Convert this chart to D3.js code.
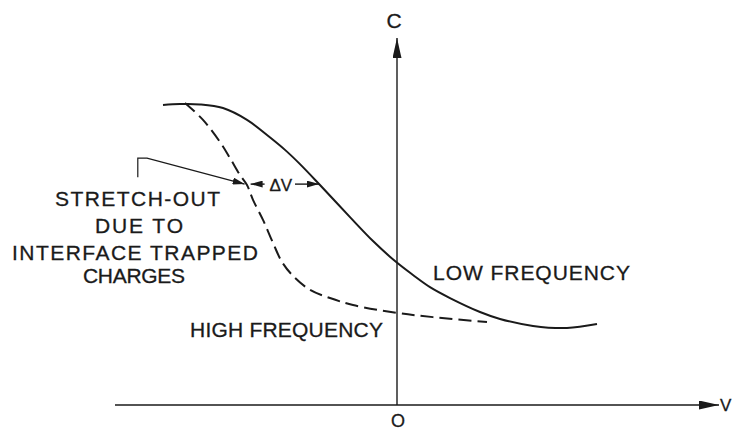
<!DOCTYPE html>
<html>
<head>
<meta charset="utf-8">
<script src="https://cdn.jsdelivr.net/npm/d3@7"></script>
<style>
  html, body { margin: 0; padding: 0; background: #fff; }
  svg text { font-family: "Liberation Sans", "DejaVu Sans", sans-serif; fill: #1a1a1a; stroke: #1a1a1a; stroke-width: 0.3px; }
</style>
</head>
<body>
<div id="chart"></div>
<script>
// low frequency C-V curve (gate voltage, normalised capacitance)
const lowFreqV = [-5.85, -5.425, -4.925, -4.35, -3.75, -3.25, -2.8, -2.425, -1.925, -1.175, -0.6, -0.05, 0.4, 0.825, 1.325, 2.075, 2.575, 3.4, 4.25, 5.0];
const lowFreqC = [0.99, 0.993, 0.992, 0.98, 0.941, 0.891, 0.842, 0.795, 0.726, 0.62, 0.541, 0.475, 0.429, 0.389, 0.353, 0.307, 0.284, 0.261, 0.254, 0.267];

// high frequency C-V curve
const highFreqV = [-5.3, -4.85, -4.425, -4.175, -3.925, -3.75, -3.6, -3.35, -3.1, -2.875, -2.6, -2.175, -1.675, -1.1, 0, 0.9, 2.25];
const highFreqC = [0.997, 0.941, 0.868, 0.815, 0.759, 0.726, 0.677, 0.611, 0.535, 0.472, 0.426, 0.38, 0.353, 0.33, 0.304, 0.29, 0.274];

// stretch-out annotation: level and the two ends of delta V
const deltaC = 0.729;
const deltaV = [-3.76, -1.95];

const width = 732, height = 430;

const svg = d3.select("#chart")
  .append("svg")
  .attr("width", width)
  .attr("height", height);

const x = d3.scaleLinear().domain([-7.05, 8.05]).range([115, 719]);
const y = d3.scaleLinear().domain([0, 1]).range([405, 102]);

const ink = "#1a1a1a";

// arrow heads
const defs = svg.append("defs");
function marker(id, w, h) {
  defs.append("marker")
    .attr("id", id)
    .attr("viewBox", `0 0 ${w} ${h}`)
    .attr("refX", w)
    .attr("refY", h / 2)
    .attr("markerWidth", w)
    .attr("markerHeight", h)
    .attr("markerUnits", "userSpaceOnUse")
    .attr("orient", "auto-start-reverse")
    .append("path")
    .attr("d", `M0,0L${w},${h / 2}L0,${h}Z`)
    .attr("fill", ink);
}
marker("axisHead", 20, 9);
marker("smallHead", 12, 7);

// axes
svg.append("line")
  .attr("x1", x(-7.05)).attr("x2", x(8.05))
  .attr("y1", y(0)).attr("y2", y(0))
  .attr("stroke", ink).attr("stroke-width", 1.4)
  .attr("marker-end", "url(#axisHead)");

svg.append("line")
  .attr("x1", x(0)).attr("x2", x(0))
  .attr("y1", y(0)).attr("y2", y(1.211))
  .attr("stroke", ink).attr("stroke-width", 1.4)
  .attr("marker-end", "url(#axisHead)");

// curves
const line = d3.line()
  .x((d) => x(d[0]))
  .y((d) => y(d[1]))
  .curve(d3.curveCatmullRom.alpha(0.5));

svg.append("path")
  .datum(d3.zip(lowFreqV, lowFreqC))
  .attr("d", line)
  .attr("fill", "none")
  .attr("stroke", ink)
  .attr("stroke-width", 2);

svg.append("path")
  .datum(d3.zip(highFreqV, highFreqC))
  .attr("d", line)
  .attr("fill", "none")
  .attr("stroke", ink)
  .attr("stroke-width", 2)
  .attr("stroke-dasharray", "13,6");

// leader from the label to the stretch-out arrow
svg.append("path")
  .attr("d", `M${x(-6.48)},${y(0.752)}V${y(0.815)}H${x(-6.25)}L${x(deltaV[0] - 0.05)},${y(deltaC)}`)
  .attr("fill", "none")
  .attr("stroke", ink)
  .attr("stroke-width", 1.2)
  .attr("marker-end", "url(#smallHead)");

// delta V double arrow
svg.append("line")
  .attr("x1", x(deltaV[0] + 0.1)).attr("x2", x(deltaV[0] + 0.45))
  .attr("y1", y(deltaC)).attr("y2", y(deltaC))
  .attr("stroke", ink).attr("stroke-width", 1.4)
  .attr("marker-start", "url(#smallHead)");

svg.append("line")
  .attr("x1", x(-2.55)).attr("x2", x(deltaV[1]))
  .attr("y1", y(deltaC)).attr("y2", y(deltaC))
  .attr("stroke", ink).attr("stroke-width", 1.4)
  .attr("marker-end", "url(#smallHead)");

svg.append("text")
  .attr("x", x((deltaV[0] + deltaV[1]) / 2 - 0.05))
  .attr("y", y(deltaC) + 7)
  .attr("text-anchor", "middle")
  .style("font-size", "17px")
  .text("\u0394V");

// labels
const labels = [
  { t: "STRETCH-OUT", x: 55, y: 206, w: 165 },
  { t: "DUE TO", x: 95, y: 233, w: 88 },
  { t: "INTERFACE TRAPPED", x: 12, y: 260, w: 246 },
  { t: "CHARGES", x: 83, y: 283, w: 102 },
  { t: "LOW FREQUENCY", x: 433, y: 280, w: 197 },
  { t: "HIGH FREQUENCY", x: 190, y: 337, w: 193 }
];

svg.selectAll(".lab")
  .data(labels)
  .enter()
  .append("text")
  .attr("class", "lab")
  .attr("x", (d) => d.x)
  .attr("y", (d) => d.y)
  .attr("textLength", (d) => d.w)
  .attr("lengthAdjust", "spacing")
  .style("font-size", "21px")
  .text((d) => d.t);

svg.append("text")
  .attr("x", x(0) - 3).attr("y", 28)
  .attr("text-anchor", "middle")
  .style("font-size", "21px")
  .text("C");

svg.append("text")
  .attr("x", x(0) + 1).attr("y", 427)
  .attr("text-anchor", "middle")
  .style("font-size", "18px")
  .text("O");

svg.append("text")
  .attr("x", 720).attr("y", 411)
  .style("font-size", "17px")
  .text("V");
</script>
</body>
</html>
